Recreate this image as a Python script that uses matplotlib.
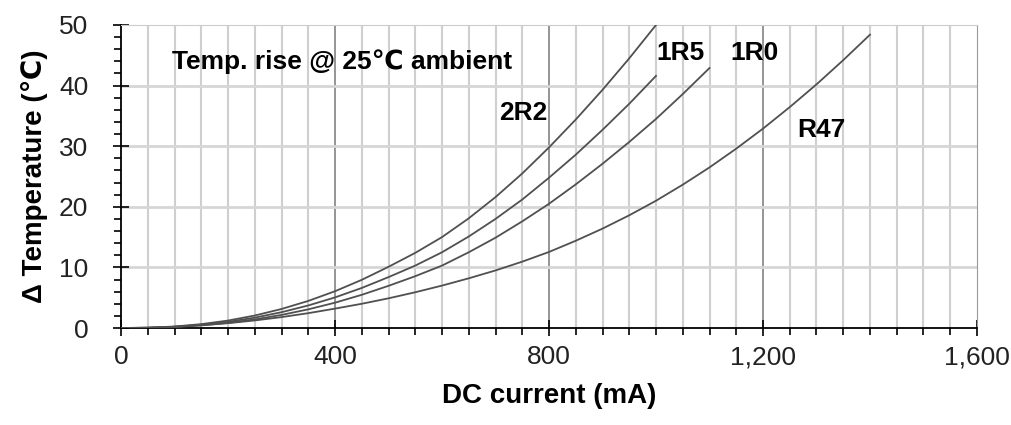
import numpy as np
import matplotlib
matplotlib.use("Agg")
import matplotlib.pyplot as plt
from matplotlib.ticker import MultipleLocator, FuncFormatter

plt.rcParams['font.family'] = ['Liberation Sans', 'DejaVu Sans']

# DC current (mA), step 50
x_2r2 = np.arange(0, 1001, 50)
x_1r5 = np.arange(0, 1001, 50)
x_1r0 = np.arange(0, 1101, 50)
x_r47 = np.arange(0, 1401, 50)

# temperature rise (degC)
t_2r2 = [0, 0.05, 0.25, 0.64, 1.23, 2.06, 3.14, 4.47, 6.07, 7.95, 10.1,
         12.4, 15.0, 18.1, 21.6, 25.5, 29.8, 34.4, 39.3, 44.5, 50.0]
t_1r5 = [0, 0.04, 0.21, 0.53, 1.02, 1.71, 2.61, 3.72, 5.05, 6.61, 8.40,
         10.3, 12.5, 15.1, 18.0, 21.2, 24.8, 28.6, 32.7, 37.0, 41.6]
t_1r0 = [0, 0.03, 0.17, 0.44, 0.85, 1.42, 2.16, 3.08, 4.18, 5.48, 6.96,
         8.55, 10.3, 12.5, 14.9, 17.6, 20.5, 23.7, 27.1, 30.7, 34.5, 38.6, 42.9]
t_r47 = [0, 0.05, 0.2, 0.45, 0.8, 1.25, 1.8, 2.45, 3.2, 4.0, 4.9, 5.9, 7.0,
         8.2, 9.5, 10.95, 12.55, 14.4, 16.4, 18.6, 21.0, 23.65, 26.5, 29.6,
         32.9, 36.45, 40.2, 44.2, 48.4]

labels = ['2R2', '1R5', '1R0', 'R47']
label_pos = [(751, 35.5), (1045, 45.3), (1185, 45.3), (1310, 32.6)]

fig = plt.figure(figsize=(10.12, 4.25), dpi=100)
ax = fig.add_axes([0.1196, 0.2282, 0.8458, 0.713])

# grid
for xv in np.arange(50, 1600, 50):
    if xv % 400 == 0:
        ax.axvline(xv, color='#8c8c8c', lw=1.3, zorder=1)
    else:
        ax.axvline(xv, color='#cfcfcf', lw=1.5, zorder=1)
for yv in np.arange(10, 50, 10):
    ax.axhline(yv, color='#d6d6d6', lw=2.0, zorder=1)

for xs, ts in [(x_2r2, t_2r2), (x_1r5, t_1r5), (x_1r0, t_1r0), (x_r47, t_r47)]:
    ax.plot(xs, ts, color='#505050', lw=1.3, zorder=3)

for lab, (lx, ly) in zip(labels, label_pos):
    ax.text(lx, ly, lab, fontsize=19, fontweight='bold', ha='center', va='center', zorder=4)

ax.text(95, 43.9, 'Temp. rise @ 25\u2103 ambient', fontsize=19, fontweight='bold',
        ha='left', va='center', zorder=4)

ax.set_xlim(0, 1600)
ax.set_ylim(0, 50)
ax.xaxis.set_major_locator(MultipleLocator(400))
ax.xaxis.set_minor_locator(MultipleLocator(50))
ax.yaxis.set_major_locator(MultipleLocator(10))
ax.yaxis.set_minor_locator(MultipleLocator(2))
ax.xaxis.set_major_formatter(FuncFormatter(lambda v, p: f'{int(v):,}'))

ax.tick_params(axis='both', which='major', direction='inout', length=11, width=1.2,
               labelsize=19, labelcolor='#222222')
ax.tick_params(axis='both', which='minor', direction='out', length=5, width=1.2)
ax.tick_params(axis='x', which='major', pad=7)
ax.tick_params(axis='y', which='major', pad=18)

ax.spines['left'].set_linewidth(1.3)
ax.spines['bottom'].set_linewidth(1.3)
ax.spines['top'].set_color('#cccccc')
ax.spines['right'].set_color('#999999')

ax.set_xlabel('DC current (mA)', fontsize=20, fontweight='bold', labelpad=10)
ax.set_ylabel('\u0394 Temperature (\u2103)', fontsize=20, fontweight='bold', labelpad=8)

fig.savefig('out.png', dpi=100)
